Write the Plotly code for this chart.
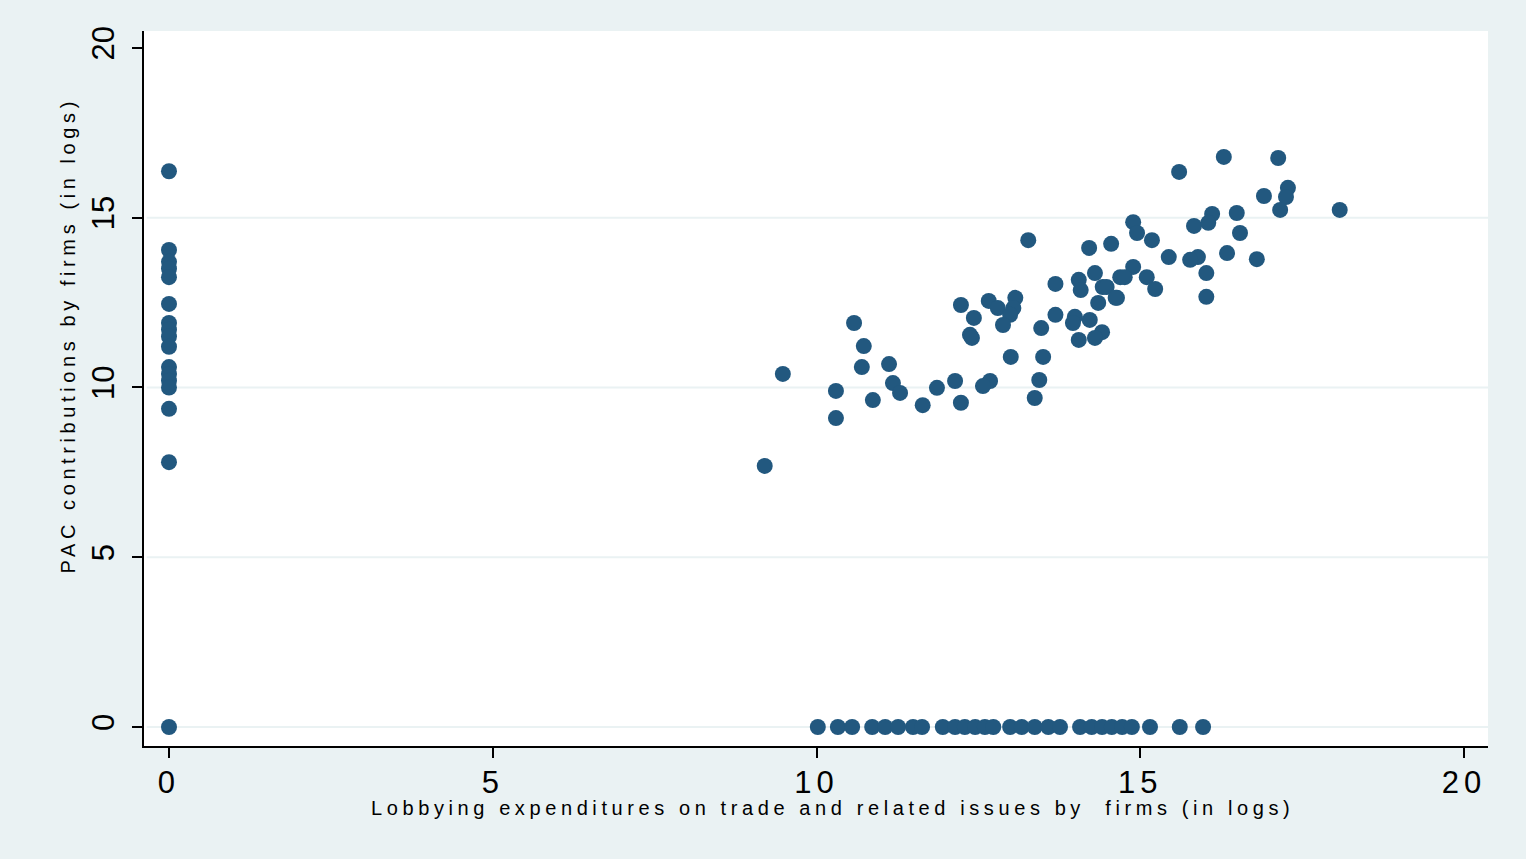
import plotly.graph_objects as go

# Firms with zero lobbying (x = 0)
x_zero_lobby = [0] * 17
y_zero_lobby = [16.37, 14.05, 13.7, 13.5, 13.25, 12.46, 11.9, 11.7, 11.5, 11.2,
                10.6, 10.4, 10.2, 10.0, 9.37, 7.8, 0.0]

# Firms with positive lobbying and positive PAC contributions
x_both = [9.20, 9.48, 10.30, 10.30, 10.58, 10.73, 10.70, 11.12, 10.87, 11.18,
          11.29, 11.64, 11.86, 12.14, 12.23, 12.23, 12.43, 12.37, 12.40, 12.66,
          12.80, 13.07, 13.04, 12.99, 12.88, 12.68, 12.57, 13.00, 13.27, 13.69,
          13.69, 13.47, 13.50, 13.44, 13.37, 14.21, 14.55, 14.30, 14.05, 14.08,
          14.42, 14.69, 14.64, 14.35, 13.99, 13.96, 14.22, 14.41, 14.30, 14.05,
          15.60, 16.29, 17.13, 17.28, 17.25, 16.91, 17.16, 18.08, 16.11, 16.05,
          15.83, 16.49, 16.54, 14.89, 14.95, 15.18, 15.44, 15.89, 15.77, 16.34,
          16.80, 14.89, 14.76, 15.10, 15.23, 16.02, 16.02, 14.48, 14.62]
y_both = [7.69, 10.40, 9.90, 9.10, 11.90, 11.22, 10.60, 10.69, 9.63, 10.13,
          9.84, 9.48, 9.99, 10.19, 9.55, 12.43, 12.05, 11.55, 11.46, 12.55,
          12.34, 12.64, 12.34, 12.14, 11.84, 10.19, 10.04, 10.90, 14.34, 13.05,
          12.14, 11.75, 10.90, 10.22, 9.69, 14.11, 14.23, 13.37, 13.17, 12.87,
          12.96, 13.25, 12.64, 12.49, 12.08, 11.90, 11.99, 11.63, 11.46, 11.40,
          16.35, 16.79, 16.76, 15.88, 15.61, 15.64, 15.23, 15.23, 15.11, 14.85,
          14.76, 15.14, 14.55, 14.87, 14.55, 14.34, 13.84, 13.84, 13.76, 13.96,
          13.78, 13.55, 13.25, 13.25, 12.90, 13.37, 12.67, 12.96, 12.64]

# Firms with positive lobbying but zero PAC contributions
x_zero_pac = [10.02, 10.33, 10.55, 10.86, 11.06, 11.26, 11.49, 11.63, 11.95, 12.14,
              12.29, 12.45, 12.60, 12.73, 12.99, 13.17, 13.37, 13.58, 13.76, 14.07,
              14.25, 14.41, 14.56, 14.72, 14.87, 15.15, 15.61, 15.97]
y_zero_pac = [0.0] * len(x_zero_pac)

x_ticks = [0, 5, 10, 15, 20]
y_ticks = [0, 5, 10, 15, 20]
grid_vals = [0, 5, 10, 15]

x_title = "Lobbying expenditures on trade and related issues by  firms (in logs)"
y_title = "PAC contributions by firms (in logs)"

marker_color = "#22587F"
bg = "#EAF2F3"

xs = x_zero_lobby + x_both + x_zero_pac
ys = y_zero_lobby + y_both + y_zero_pac

fig = go.Figure()
fig.add_trace(go.Scatter(
    x=xs, y=ys, mode="markers",
    marker=dict(size=16, color=marker_color, line=dict(width=0)),
    showlegend=False, hoverinfo="x+y",
))

shapes = []
for g in grid_vals:
    shapes.append(dict(type="line", xref="paper", x0=0.002, x1=1, yref="y", y0=g, y1=g,
                       line=dict(color=bg, width=2), layer="below"))

fig.update_layout(
    width=1526, height=859,
    paper_bgcolor=bg, plot_bgcolor="white",
    margin=dict(l=144, r=38, t=31, b=113),
    shapes=shapes,
    font=dict(family="Liberation Sans, Arial, sans-serif", color="black"),
    xaxis=dict(
        range=[-0.386, 20.37], tickvals=x_ticks,
        ticktext=['<span style="letter-spacing:5px">%d</span>' % v for v in x_ticks],
        showgrid=False, zeroline=False,
        showline=True, linecolor="black", linewidth=2,
        ticks="outside", ticklen=10, tickwidth=2, tickcolor="black",
        tickfont=dict(size=31), ticklabelstandoff=-2,
    ),
    yaxis=dict(
        range=[-0.56, 20.5], tickvals=y_ticks, tickangle=-90,
        showgrid=False, zeroline=False,
        showline=True, linecolor="black", linewidth=2,
        ticks="outside", ticklen=10, tickwidth=2, tickcolor="black",
        tickfont=dict(size=31), ticklabelstandoff=6,
    ),
    annotations=[
        dict(text='<span style="letter-spacing:4.6px">%s</span>' % x_title,
             xref="paper", yref="paper", x=0.512, y=-0.0868,
             xanchor="center", yanchor="middle", showarrow=False,
             font=dict(size=20)),
        dict(text='<span style="letter-spacing:4.6px">%s</span>' % y_title,
             xref="paper", yref="paper", x=-0.0566, y=0.574, textangle=-90,
             xanchor="center", yanchor="middle", showarrow=False,
             font=dict(size=20)),
    ],
)

fig.write_html(
    "out.html",
    config={"displayModeBar": False},
    post_script="document.body.style.margin='0';document.body.style.background='%s';" % bg,
)
